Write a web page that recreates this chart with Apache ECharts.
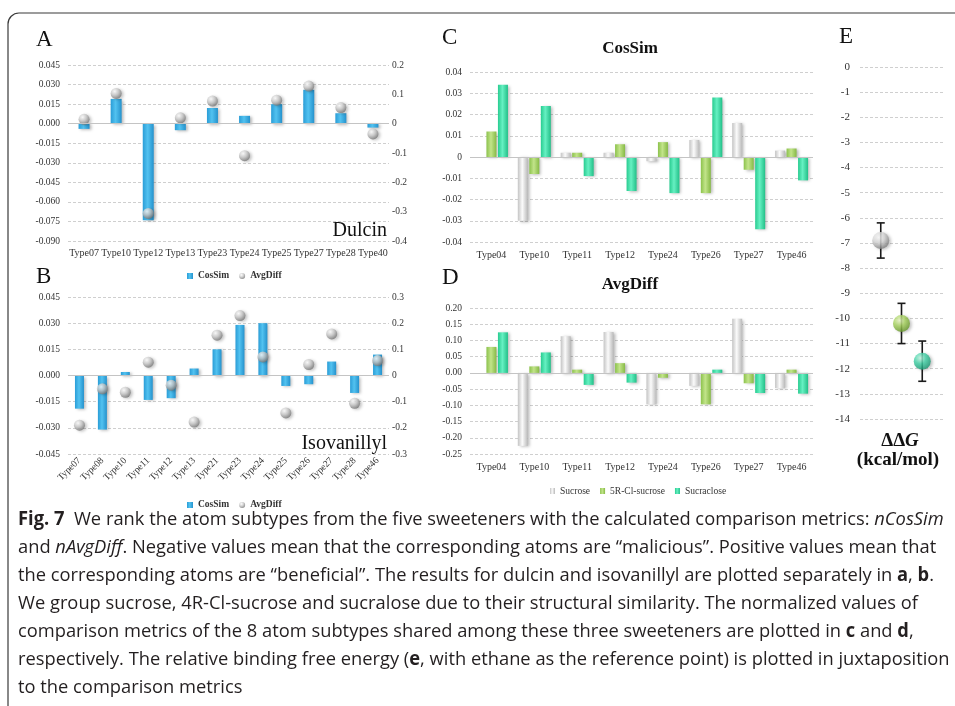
<!DOCTYPE html>
<html><head><meta charset="utf-8">
<script src="https://cdn.jsdelivr.net/npm/echarts@6/dist/echarts.min.js"></script>
<style>html,body{margin:0;padding:0;background:#fff;}#c{width:955px;height:706px;}</style>
</head><body><div id="c"></div>
<script>
// ---------- data ----------
const catsA = ['Type07','Type10','Type12','Type13','Type23','Type24','Type25','Type27','Type28','Type40'];
const cosA  = [-0.004, 0.019, -0.074, -0.005, 0.012, 0.006, 0.015, 0.026, 0.008, -0.003];
const avgA  = [0.015, 0.103, -0.306, 0.020, 0.077, -0.109, 0.080, 0.128, 0.055, -0.035];

const catsB = ['Type07','Type08','Type10','Type11','Type12','Type13','Type21','Type23','Type24','Type25','Type26','Type27','Type28','Type46'];
const cosB  = [-0.019, -0.031, 0.002, -0.014, -0.013, 0.004, 0.015, 0.029, 0.030, -0.006, -0.005, 0.008, -0.010, 0.012];
const avgB  = [-0.190, -0.051, -0.064, 0.051, -0.037, -0.178, 0.154, 0.229, 0.071, -0.143, 0.042, 0.159, -0.106, 0.057];

const catsCD = ['Type04','Type10','Type11','Type12','Type24','Type26','Type27','Type46'];
const sweetNames = ['Sucrose','5R-Cl-sucrose','Sucraclose'];
const cosSucrose   = [0, -0.030, 0.002, 0.002, -0.002, 0.008, 0.016, 0.003];
const cos5R        = [0.012, -0.008, 0.002, 0.006, 0.007, -0.017, -0.006, 0.004];
const cosSucralose = [0.034, 0.024, -0.009, -0.016, -0.017, 0.028, -0.034, -0.011];
const avgSucrose   = [0, -0.225, 0.113, 0.126, -0.097, -0.040, 0.167, -0.047];
const avg5R        = [0.080, 0.020, 0.010, 0.030, -0.015, -0.097, -0.032, 0.010];
const avgSucralose = [0.125, 0.063, -0.037, -0.030, 0, 0.010, -0.062, -0.064];

const ePos    = [1, 2, 3];
const ddG     = [-6.9, -10.2, -11.7];
const ddGLow  = [-7.6, -11.0, -12.5];
const ddGHigh = [-6.2, -9.4, -10.9];

// axis ranges / tick settings
const axA  = {min:-0.09, max:0.045, interval:0.015};
const axA2 = {min:-0.4, max:0.2, interval:0.1};
const axB  = {min:-0.045, max:0.045, interval:0.015};
const axB2 = {min:-0.3, max:0.3, interval:0.1};
const axC  = {min:-0.04, max:0.04, interval:0.01};
const axD  = {min:-0.25, max:0.20, interval:0.05};
const axE  = {min:-14, max:0, interval:1};

const captionLines = [
  '{b|Fig. 7}  We rank the atom subtypes from the five sweeteners with the calculated comparison metrics: {i|nCosSim}',
  'and {i|nAvgDiff}. Negative values mean that the corresponding atoms are \u201cmalicious\u201d. Positive values mean that',
  'the corresponding atoms are \u201cbeneficial\u201d. The results for dulcin and isovanillyl are plotted separately in {b|a}, {b|b}.',
  'We group sucrose, 4R-Cl-sucrose and sucralose due to their structural similarity. The normalized values of',
  'comparison metrics of the 8 atom subtypes shared among these three sweeteners are plotted in {b|c} and {b|d},',
  'respectively. The relative binding free energy ({b|e}, with ethane as the reference point) is plotted in juxtaposition',
  'to the comparison metrics'
];

// ---------- styling helpers ----------
const SERIF = 'Liberation Serif';
const SANS = 'Open Sans';
function hgrad(a,b,c){ return {type:'linear', x:0, y:0, x2:1, y2:0, colorStops:[{offset:0,color:a},{offset:0.45,color:b},{offset:1,color:c}]}; }
function sphere(hi, mid, lo){ return {type:'radial', x:0.38, y:0.32, r:0.75, colorStops:[{offset:0,color:hi},{offset:0.45,color:mid},{offset:1,color:lo}]}; }
const blue = hgrad('#2a9dd7','#52c2f0','#2592cd');
const gray = hgrad('#c4c4c4','#fbfbfb','#b9b9b9');
const green = hgrad('#8cc24c','#c2e48a','#86ba45');
const teal = hgrad('#28cc90','#66f0c2','#22c088');
const silver = sphere('#ffffff','#c8c8c8','#6a6a6a');
const shadow = {shadowBlur:3, shadowOffsetX:2, shadowOffsetY:1, shadowColor:'rgba(0,0,0,0.28)'};
const splitDash = {show:true, lineStyle:{color:'#cfcfcf', type:[3,2], width:1}};
const labelStyle = {fontFamily:SERIF, fontSize:9.5, color:'#333'};
const catLabel = {fontFamily:SERIF, fontSize:10, color:'#333'};
const zeroLine = {silent:true, symbol:'none', label:{show:false}, lineStyle:{color:'#c4c4c4', type:'solid', width:1.2}, data:[{yAxis:0}], animation:false};
const fz = d => (v => Math.abs(v) < 1e-9 ? (0).toFixed(d) : v.toFixed(d));
const fzero = d => (v => Math.abs(v) < 1e-9 ? '0' : v.toFixed(d));

function catX(grid, data, extra){
  return Object.assign({type:'category', gridIndex:grid, data:data, axisLine:{show:false}, axisTick:{show:false},
    axisLabel:Object.assign({interval:0, margin:7}, catLabel)}, extra||{});
}
function valY(grid, ax, formatter, extra){
  return Object.assign({type:'value', gridIndex:grid, min:ax.min, max:ax.max, interval:ax.interval,
    axisLine:{show:false}, axisTick:{show:false}, splitLine:splitDash,
    axisLabel:Object.assign({formatter:formatter, margin:8}, labelStyle)}, extra||{});
}

// caption scaling (narrow caption font)
const mctx = document.createElement('canvas').getContext('2d');
mctx.font = '19px "' + SANS + '"';
const plain1 = captionLines[0].replace(/\{[a-z]\|([^}]*)\}/g,'$1');
const capScale = 928 / mctx.measureText(plain1).width;

const capRich = {
  b:{fontFamily:SANS, fontSize:19, fontWeight:'bold', fill:'#231f20'},
  i:{fontFamily:SANS, fontSize:19, fontStyle:'italic', fill:'#231f20'}
};

const graphics = [
  {type:'rect', shape:{x:8, y:13, width:980, height:720, r:[11,0,0,0]}, style:{fill:'none', stroke:'#3a3a3a', lineWidth:1.2}, silent:true},
  {type:'text', x:36, y:40, style:{text:'A', fontFamily:SERIF, fontSize:23, fill:'#111', verticalAlign:'middle'}},
  {type:'text', x:36, y:277, style:{text:'B', fontFamily:SERIF, fontSize:23, fill:'#111', verticalAlign:'middle'}},
  {type:'text', x:442, y:38, style:{text:'C', fontFamily:SERIF, fontSize:23, fill:'#111', verticalAlign:'middle'}},
  {type:'text', x:442, y:278, style:{text:'D', fontFamily:SERIF, fontSize:23, fill:'#111', verticalAlign:'middle'}},
  {type:'text', x:839, y:37, style:{text:'E', fontFamily:SERIF, fontSize:23, fill:'#111', verticalAlign:'middle'}},
  {type:'text', x:387, y:231, style:{text:'Dulcin', fontFamily:SERIF, fontSize:20, fill:'#111', align:'right', verticalAlign:'middle'}},
  {type:'text', x:387, y:444, style:{text:'Isovanillyl', fontFamily:SERIF, fontSize:20, fill:'#111', align:'right', verticalAlign:'middle'}},
  {type:'text', x:630, y:49, style:{text:'CosSim', fontFamily:SERIF, fontSize:17, fontWeight:'bold', fill:'#111', align:'center', verticalAlign:'middle'}},
  {type:'text', x:630, y:285, style:{text:'AvgDiff', fontFamily:SERIF, fontSize:17, fontWeight:'bold', fill:'#111', align:'center', verticalAlign:'middle'}},
  {type:'text', x:900, y:441, style:{text:'{n|\u0394\u0394}{i|G}', align:'center', verticalAlign:'middle',
     rich:{n:{fontFamily:SERIF, fontSize:19, fontWeight:'bold', fill:'#111'}, i:{fontFamily:SERIF, fontSize:19, fontWeight:'bold', fontStyle:'italic', fill:'#111'}}}},
  {type:'text', x:898, y:460, style:{text:'(kcal/mol)', fontFamily:SERIF, fontSize:19, fontWeight:'bold', fill:'#111', align:'center', verticalAlign:'middle'}}
];
captionLines.forEach((t, i) => {
  graphics.push({type:'text', x:18, y:520 + i*28, scaleX:capScale, originX:0,
    style:{text:t, fontFamily:SANS, fontSize:19, fill:'#231f20', verticalAlign:'middle', rich:capRich}});
});

const legendText = {fontFamily:SERIF, fontSize:9.5, fontWeight:'bold', color:'#333'};

const option = {
  animation:false,
  backgroundColor:'#fff',
  graphic:graphics,
  legend:[
    {left:182, top:266, itemWidth:6, itemHeight:6, itemGap:10, textStyle:legendText, selectedMode:false,
     data:[{name:'CosSim', icon:'rect'},{name:'AvgDiff', icon:'circle'}]},
    {left:182, top:495, itemWidth:6, itemHeight:6, itemGap:10, textStyle:legendText, selectedMode:false,
     data:[{name:'CosSim', icon:'rect'},{name:'AvgDiff', icon:'circle'}]},
    {left:545, top:481, itemWidth:5, itemHeight:6, itemGap:10, selectedMode:false,
     textStyle:{fontFamily:SERIF, fontSize:9.5, color:'#333'},
     data:sweetNames.map(n => ({name:n, icon:'rect'}))}
  ],
  grid:[
    {left:68, top:65, width:321, height:176},
    {left:68, top:297, width:321, height:157},
    {left:470, top:72, width:343, height:170},
    {left:470, top:308, width:343, height:146},
    {left:860, top:67, width:83, height:352}
  ],
  xAxis:[
    catX(0, catsA),
    catX(1, catsB, {axisLabel:Object.assign({interval:0, margin:5, rotate:45}, catLabel, {fontSize:9.5})}),
    catX(2, catsCD, {axisLabel:Object.assign({interval:0, margin:8}, catLabel)}),
    catX(3, catsCD, {axisLabel:Object.assign({interval:0, margin:8}, catLabel)}),
    {type:'value', gridIndex:4, min:0, max:4, show:false}
  ],
  yAxis:[
    valY(0, axA, fz(3)),
    valY(0, axA2, fzero(1), {position:'right', splitLine:{show:false}, axisLabel:Object.assign({margin:3, formatter:fzero(1)}, labelStyle)}),
    valY(1, axB, fz(3)),
    valY(1, axB2, fzero(1), {position:'right', splitLine:{show:false}, axisLabel:Object.assign({margin:3, formatter:fzero(1)}, labelStyle)}),
    valY(2, axC, fzero(2)),
    valY(3, axD, fz(2)),
    valY(4, axE, fz(0), {axisLabel:Object.assign({margin:10, formatter:fz(0)}, labelStyle, {fontSize:11})})
  ],
  series:[
    {name:'CosSim', type:'bar', xAxisIndex:0, yAxisIndex:0, data:cosA, barWidth:11,
     itemStyle:Object.assign({color:blue}, shadow), markLine:zeroLine, z:2},
    {name:'AvgDiff', type:'scatter', xAxisIndex:0, yAxisIndex:1, data:avgA, symbolSize:11,
     itemStyle:Object.assign({color:silver}, shadow), z:3},
    {name:'CosSim', type:'bar', xAxisIndex:1, yAxisIndex:2, data:cosB, barWidth:9,
     itemStyle:Object.assign({color:blue}, shadow), markLine:zeroLine, z:2},
    {name:'AvgDiff', type:'scatter', xAxisIndex:1, yAxisIndex:3, data:avgB, symbolSize:11,
     itemStyle:Object.assign({color:silver}, shadow), z:3},

    {name:sweetNames[0], type:'bar', xAxisIndex:2, yAxisIndex:4, data:cosSucrose, barWidth:10, barGap:'15%',
     itemStyle:Object.assign({color:gray}, shadow), markLine:zeroLine},
    {name:sweetNames[1], type:'bar', xAxisIndex:2, yAxisIndex:4, data:cos5R, barWidth:10, barGap:'15%',
     itemStyle:Object.assign({color:green}, shadow)},
    {name:sweetNames[2], type:'bar', xAxisIndex:2, yAxisIndex:4, data:cosSucralose, barWidth:10, barGap:'15%',
     itemStyle:Object.assign({color:teal}, shadow)},

    {name:sweetNames[0], type:'bar', xAxisIndex:3, yAxisIndex:5, data:avgSucrose, barWidth:10, barGap:'15%',
     itemStyle:Object.assign({color:gray}, shadow), markLine:zeroLine},
    {name:sweetNames[1], type:'bar', xAxisIndex:3, yAxisIndex:5, data:avg5R, barWidth:10, barGap:'15%',
     itemStyle:Object.assign({color:green}, shadow)},
    {name:sweetNames[2], type:'bar', xAxisIndex:3, yAxisIndex:5, data:avgSucralose, barWidth:10, barGap:'15%',
     itemStyle:Object.assign({color:teal}, shadow)},

    {name:'ddG error', type:'custom', xAxisIndex:4, yAxisIndex:6, clip:false, z:3,
     encode:{x:0, y:[1,2]},
     data:ePos.map((x,i) => [x, ddGLow[i], ddGHigh[i]]),
     renderItem:function(params, api){
       const x = api.value(0), lo = api.coord([x, api.value(1)]), hi = api.coord([x, api.value(2)]);
       const cap = 4, st = {stroke:'#1a1a1a', lineWidth:1.6};
       return {type:'group', children:[
         {type:'line', shape:{x1:lo[0], y1:lo[1], x2:hi[0], y2:hi[1]}, style:st},
         {type:'line', shape:{x1:lo[0]-cap, y1:lo[1], x2:lo[0]+cap, y2:lo[1]}, style:st},
         {type:'line', shape:{x1:hi[0]-cap, y1:hi[1], x2:hi[0]+cap, y2:hi[1]}, style:st}
       ]};
     }},
    {name:'\u0394\u0394G', type:'scatter', xAxisIndex:4, yAxisIndex:6, symbolSize:17, z:4,
     data:ePos.map((x,i) => ({value:[x, ddG[i]], itemStyle:{color:[
        sphere('#ffffff','#d6d6d6','#707070'),
        sphere('#eefbc8','#a6d35c','#5e8f22'),
        sphere('#c8fbe8','#3fd2a6','#14906c')][i]}})),
     itemStyle:shadow}
  ]
};

const chart = echarts.init(document.getElementById('c'), null, {renderer:'canvas'});
chart.setOption(option);
</script></body></html>
